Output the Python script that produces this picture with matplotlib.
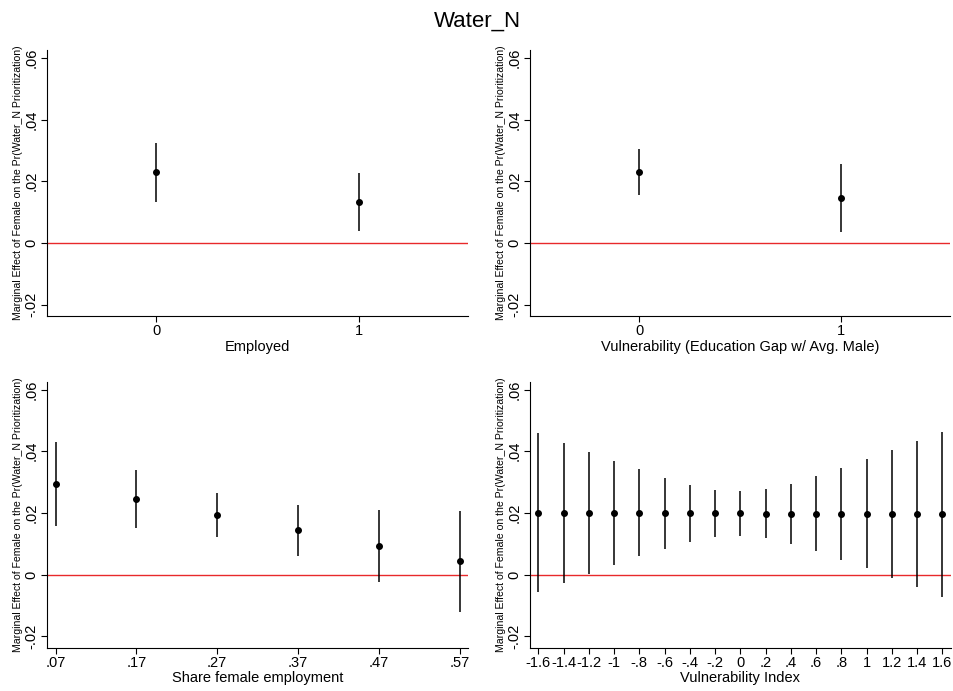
import numpy as np
import matplotlib
matplotlib.use("Agg")
import matplotlib.pyplot as plt

plt.rcParams['font.family'] = ['Liberation Sans', 'DejaVu Sans']

# panel 1: Employed
emp_x = [0, 1]
emp_est = [0.0229, 0.0134]
emp_lo = [0.0132, 0.0039]
emp_hi = [0.0325, 0.0228]

# panel 2: Vulnerability (education gap)
edu_x = [0, 1]
edu_est = [0.0231, 0.0146]
edu_lo = [0.0156, 0.0036]
edu_hi = [0.0305, 0.0255]

# panel 3: share female employment
share_x = [0.07, 0.17, 0.27, 0.37, 0.47, 0.57]
share_est = [0.0294, 0.0244, 0.0195, 0.0144, 0.0093, 0.0043]
share_lo = [0.0159, 0.0150, 0.0122, 0.0061, -0.0025, -0.0120]
share_hi = [0.0429, 0.0338, 0.0265, 0.0225, 0.0211, 0.0205]

# panel 4: vulnerability index
vul_x = [-1.6, -1.4, -1.2, -1.0, -0.8, -0.6, -0.4, -0.2, 0.0, 0.2, 0.4, 0.6, 0.8, 1.0, 1.2, 1.4, 1.6]
vul_est = [0.0201, 0.0201, 0.0201, 0.0200, 0.0200, 0.0199, 0.0199, 0.0199, 0.0199,
           0.0198, 0.0198, 0.0198, 0.0198, 0.0197, 0.0197, 0.0197, 0.0197]
vul_lo = [-0.0057, -0.0027, 0.0003, 0.0031, 0.0059, 0.0084, 0.0107, 0.0122, 0.0126,
          0.0118, 0.0099, 0.0075, 0.0047, 0.0020, -0.0011, -0.0041, -0.0071]
vul_hi = [0.0458, 0.0427, 0.0398, 0.0368, 0.0341, 0.0314, 0.0291, 0.0275, 0.0270,
          0.0279, 0.0295, 0.0320, 0.0347, 0.0374, 0.0403, 0.0433, 0.0463]

ylab = "Marginal Effect of Female on the Pr(Water_N Prioritization)"
yticks = [-0.02, 0, 0.02, 0.04, 0.06]
yticklabels = ["-.02", "0", ".02", ".04", ".06"]


def stata_num(v):
    # stata style: drop the leading zero
    s = ("%g" % round(v, 2))
    if s.startswith("0."):
        s = s[1:]
    elif s.startswith("-0."):
        s = "-" + s[2:]
    return s


def panel(ax, x, est, lo, hi, xlim, xticks, xticklabels, xlabel):
    x = np.array(x)
    ax.vlines(x, lo, hi, color='black', lw=1.1, zorder=2)
    ax.plot(x, est, 'o', color='black', ms=4, zorder=3)
    ax.axhline(0, color='#e8292b', lw=1.0, zorder=1)
    ax.set_xlim(*xlim)
    ax.set_ylim(-0.0237, 0.0626)
    ax.set_yticks(yticks)
    ax.set_yticklabels(yticklabels, rotation=90, va='center', fontsize=10.5)
    ax.set_xticks(xticks)
    ax.set_xticklabels(xticklabels, fontsize=10.5)
    ax.set_xlabel(xlabel, fontsize=10.5, labelpad=1)
    ax.set_ylabel(ylab, fontsize=7.6, labelpad=1)
    ax.spines['top'].set_visible(False)
    ax.spines['right'].set_visible(False)
    ax.tick_params(length=4, width=0.8, pad=2)


fig = plt.figure(figsize=(9.54, 6.91), dpi=100)
fig.suptitle("Water_N", fontsize=16, y=0.985)

ax1 = fig.add_axes([0.0493, 0.5427, 0.4413, 0.385])
ax2 = fig.add_axes([0.5556, 0.5427, 0.4402, 0.385])
ax3 = fig.add_axes([0.0490, 0.0627, 0.4413, 0.385])
ax4 = fig.add_axes([0.5556, 0.0627, 0.4412, 0.385])

panel(ax1, emp_x, emp_est, emp_lo, emp_hi, (-0.54, 1.54), [0, 1], ["0", "1"], "Employed")
panel(ax2, edu_x, edu_est, edu_lo, edu_hi, (-0.54, 1.54), [0, 1], ["0", "1"],
      "Vulnerability (Education Gap w/ Avg. Male)")
panel(ax3, share_x, share_est, share_lo, share_hi, (0.059, 0.580), share_x,
      [stata_num(v) for v in share_x], "Share female employment")
panel(ax4, vul_x, vul_est, vul_lo, vul_hi, (-1.666, 1.669), vul_x,
      [stata_num(v) for v in vul_x], "Vulnerability Index")

fig.savefig("out.png", dpi=100)
